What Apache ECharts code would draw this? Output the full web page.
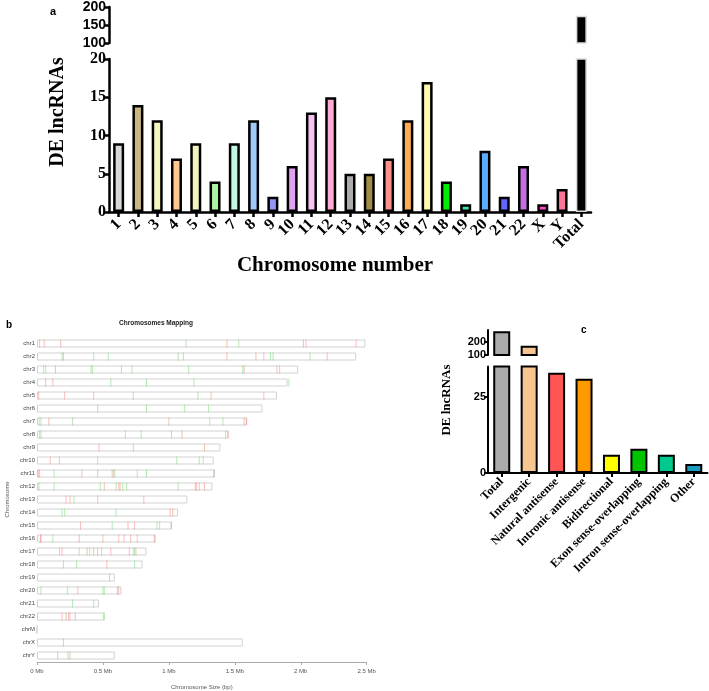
<!DOCTYPE html>
<html>
<head>
<meta charset="utf-8">
<script src="https://cdn.jsdelivr.net/npm/echarts@6/dist/echarts.min.js"></script>
<style>
  html, body { margin: 0; padding: 0; background: #fff; }
  #main { width: 709px; height: 691px; }
</style>
</head>
<body>
<div id="main"></div>
<script>
// panel a - DE lncRNAs per chromosome
var chromLabels = ['1', '2', '3', '4', '5', '6', '7', '8', '9', '10', '11', '12', '13', '14', '15', '16',
  '17', '18', '19', '20', '21', '22', 'X', 'Y', 'Total'];
var chromCounts = [9, 14, 12, 7, 9, 4, 9, 12, 2, 6, 13, 15, 5, 5, 7, 12, 17, 4, 1, 8, 2, 6, 1, 3, 176];
var chromColors = ['#d9d9d9', '#c9b882', '#f5f6c2', '#ffc98f', '#f3f5bd', '#aaf5a0', '#c2f7e2', '#9fcaf7',
  '#9296f5', '#e2a1f3', '#f7c1f1', '#ffa9d3', '#ababab', '#a18c45', '#ff918c', '#ffad52', '#fffab0',
  '#00ee00', '#40e0a8', '#5aacff', '#6464ff', '#c46fdf', '#ff45c8', '#ff7398', '#000000'];

// panel b - chromosome mapping
var mapChroms = ['chr1', 'chr2', 'chr3', 'chr4', 'chr5', 'chr6', 'chr7', 'chr8', 'chr9', 'chr10', 'chr11',
  'chr12', 'chr13', 'chr14', 'chr15', 'chr16', 'chr17', 'chr18', 'chr19', 'chr20', 'chr21', 'chr22',
  'chrM', 'chrX', 'chrY'];
var mapSizes = [2.49, 2.42, 1.98, 1.90, 1.82, 1.71, 1.59, 1.45, 1.39, 1.34, 1.35, 1.33, 1.14, 1.07, 1.02,
  0.90, 0.83, 0.80, 0.59, 0.64, 0.47, 0.51, 0.0002, 1.56, 0.59];
var sizeTicks = ['0 Mb', '0.5 Mb', '1 Mb', '1.5 Mb', '2 Mb', '2.5 Mb'];
var redHits = [
  [0.02, 0.055, 0.18, 1.44, 2.02, 2.04, 2.42],
  [0.20, 1.44, 1.66, 1.72, 2.20],
  [0.14, 1.57, 1.82, 1.84],
  [0.066, 0.12],
  [0.013, 0.21, 0.43, 1.32, 1.72],
  [0.46],
  [0.09, 1.00, 1.57, 1.59],
  [1.02, 1.10, 1.45],
  [0.47, 0.73, 1.27],
  [0.10],
  [0.01, 0.02, 0.34, 0.46, 0.57, 1.34],
  [0.51, 0.62, 0.63, 1.20, 1.21, 1.23, 1.27],
  [0.22, 0.25, 0.46, 0.81],
  [1.01, 1.03],
  [0.33, 0.69, 0.74],
  [0.025, 0.03, 0.32, 0.50, 0.62, 0.66, 0.71, 0.76, 0.89],
  [0.19, 0.38, 0.43, 0.46, 0.49, 0.56, 0.70, 0.75],
  [0.53],
  [],
  [0.31, 0.61, 0.62],
  [],
  [0.19, 0.22, 0.24, 0.25, 0.29],
  [],
  [0.20],
  [0.25]
];
var greenHits = [
  [1.13, 1.53],
  [0.19, 0.43, 0.54, 1.07, 1.11, 1.77, 1.79, 2.07],
  [0.05, 0.066, 0.41, 0.42, 0.64, 0.72, 1.15, 1.56],
  [0.56, 0.83, 1.19, 1.91],
  [0.73, 1.22],
  [0.83, 1.12, 1.30],
  [0.017, 0.03, 0.27, 1.31, 1.41],
  [0.02, 0.03, 0.67, 0.79, 1.43],
  [],
  [0.17, 0.46, 1.06, 1.23, 1.26],
  [0.13, 0.58, 0.59, 0.76, 0.83],
  [0.015, 0.13, 0.48, 0.60, 0.65, 0.68, 1.07],
  [0.28],
  [0.19, 0.21, 0.60],
  [0.57, 0.91, 0.93, 1.02],
  [0.12],
  [0.17, 0.32, 0.40, 0.73, 0.74],
  [0.20, 0.30, 0.74],
  [0.55],
  [0.03, 0.23, 0.50, 0.51],
  [0.27, 0.43],
  [0.51],
  [],
  [],
  [0.157, 0.235]
];

// panel c - lncRNA classes
var classLabels = ['Total', 'Intergenic', 'Natural antisense', 'Intronic antisense', 'Bidirectional',
  'Exon sense-overlapping', 'Intron sense-overlapping', 'Other'];
var classCounts = [280, 170, 33, 31, 6, 8, 6, 3];
var classColors = ['#aaaaaa', '#f7c58f', '#ff5555', '#ff9900', '#ffff00', '#00c400', '#00c98f', '#1a9cbf'];

var serif = '"Liberation Serif", "DejaVu Serif", serif';
var sans = '"Liberation Sans", Arial, sans-serif';

function barItems(values, colors, upper, lim) {
  return values.map(function (v, i) {
    var isTotal = colors[i] === '#000000';
    return {
      value: upper && v < lim ? '-' : v,
      itemStyle: {
        color: colors[i],
        borderColor: isTotal ? '#dcdcdc' : '#000',
        borderWidth: isTotal ? 1.5 : 2.5
      }
    };
  });
}

function hitPoints(list) {
  var pts = [];
  list.forEach(function (arr, ci) {
    arr.forEach(function (p) { pts.push([p, ci]); });
  });
  return pts;
}

var blackLine = { show: true, lineStyle: { color: '#000', width: 2.5 } };
var blackTick = { show: true, length: 5, lineStyle: { color: '#000', width: 2.5 } };

var myChart = echarts.init(document.getElementById('main'));

var option = {
  animation: false,
  grid: [
    { left: 109, top: 6, width: 482, height: 37 },
    { left: 109, top: 59, width: 482, height: 153 },
    { left: 37, top: 337, width: 329.7, height: 328.6 },
    { left: 488, top: 330, width: 219.5, height: 25 },
    { left: 488, top: 366.6, width: 219.5, height: 106.4 }
  ],
  xAxis: [
    { gridIndex: 0, type: 'category', data: chromLabels, show: false },
    {
      gridIndex: 1, type: 'category', data: chromLabels,
      axisLine: blackLine,
      axisTick: { show: true, alignWithLabel: true, length: 5, lineStyle: { color: '#000', width: 2.5 } },
      axisLabel: { interval: 0, rotate: 45, margin: 10, color: '#000', fontFamily: serif, fontWeight: 'bold', fontSize: 16 }
    },
    {
      gridIndex: 2, type: 'value', min: 0, max: 2.5, interval: 0.5,
      axisLine: { show: true, lineStyle: { color: '#aaa', width: 1 } },
      axisTick: { show: true, length: 3, lineStyle: { color: '#aaa' } },
      splitLine: { show: false },
      axisLabel: {
        color: '#555', fontSize: 6, fontFamily: sans, margin: 6,
        formatter: function (v) { return sizeTicks[Math.round(v / 0.5)]; }
      },
      name: 'Chromosome Size (bp)', nameLocation: 'middle', nameGap: 22,
      nameTextStyle: { color: '#555', fontSize: 6, fontFamily: sans }
    },
    { gridIndex: 3, type: 'category', data: classLabels, show: false },
    {
      gridIndex: 4, type: 'category', data: classLabels,
      axisLine: { show: true, lineStyle: { color: '#000', width: 2 } },
      axisTick: { show: true, alignWithLabel: true, length: 4, lineStyle: { color: '#000', width: 2 } },
      axisLabel: { interval: 0, rotate: 45, margin: 7, color: '#000', fontFamily: serif, fontWeight: 'bold', fontSize: 12 }
    }
  ],
  yAxis: [
    {
      gridIndex: 0, type: 'value', min: 100, max: 200, interval: 50,
      axisLine: blackLine, axisTick: blackTick, splitLine: { show: false },
      axisLabel: { color: '#000', fontFamily: sans, fontWeight: 'bold', fontSize: 14, margin: 3 }
    },
    {
      gridIndex: 1, type: 'value', min: 0, max: 20, interval: 5,
      axisLine: blackLine, axisTick: blackTick, splitLine: { show: false },
      axisLabel: { color: '#000', fontFamily: serif, fontWeight: 'bold', fontSize: 16, margin: 3 }
    },
    {
      gridIndex: 2, type: 'category', data: mapChroms, inverse: true,
      axisLine: { show: false }, axisTick: { show: false },
      axisLabel: { color: '#444', fontSize: 6, fontFamily: sans, margin: 2 },
      name: 'Chromosome', nameLocation: 'middle', nameGap: 27, nameRotate: 90,
      nameTextStyle: { color: '#555', fontSize: 6, fontFamily: sans }
    },
    {
      gridIndex: 3, type: 'value', min: 100, max: 290,
      axisLine: { show: true, lineStyle: { color: '#000', width: 2 } },
      axisTick: { show: true, length: 4, customValues: [100, 200], lineStyle: { color: '#000', width: 2 } },
      splitLine: { show: false },
      axisLabel: { customValues: [100, 200], color: '#000', fontFamily: sans, fontWeight: 'bold', fontSize: 11, margin: 2 }
    },
    {
      gridIndex: 4, type: 'value', min: 0, max: 35,
      axisLine: { show: true, lineStyle: { color: '#000', width: 2 } },
      axisTick: { show: true, length: 4, customValues: [0, 25], lineStyle: { color: '#000', width: 2 } },
      splitLine: { show: false },
      axisLabel: { customValues: [0, 25], color: '#000', fontFamily: sans, fontWeight: 'bold', fontSize: 11, margin: 2 }
    }
  ],
  series: [
    { type: 'bar', xAxisIndex: 0, yAxisIndex: 0, barWidth: 11, data: barItems(chromCounts, chromColors, true, 100) },
    { type: 'bar', xAxisIndex: 1, yAxisIndex: 1, barWidth: 11, data: barItems(chromCounts, chromColors, false) },
    {
      type: 'bar', xAxisIndex: 2, yAxisIndex: 2, barWidth: 8, silent: true, data: mapSizes,
      itemStyle: { color: '#fff', borderColor: '#d2d2d2', borderWidth: 1 }
    },
    {
      type: 'scatter', xAxisIndex: 2, yAxisIndex: 2, symbol: 'rect', symbolSize: [1, 8],
      data: hitPoints(redHits), itemStyle: { color: 'rgba(240,80,60,0.45)' }
    },
    {
      type: 'scatter', xAxisIndex: 2, yAxisIndex: 2, symbol: 'rect', symbolSize: [1, 8],
      data: hitPoints(greenHits), itemStyle: { color: 'rgba(50,200,50,0.45)' }
    },
    {
      type: 'bar', xAxisIndex: 3, yAxisIndex: 3, barWidth: 17,
      data: classCounts.map(function (v, i) {
        return { value: v < 100 ? '-' : v, itemStyle: { color: classColors[i], borderColor: '#000', borderWidth: 2 } };
      })
    },
    {
      type: 'bar', xAxisIndex: 4, yAxisIndex: 4, barWidth: 17,
      data: classCounts.map(function (v, i) {
        return { value: v, itemStyle: { color: classColors[i], borderColor: '#000', borderWidth: 2 } };
      })
    }
  ],
  graphic: [
    { type: 'text', x: 50, y: 6, style: { text: 'a', font: 'bold 11px ' + sans, fill: '#000' } },
    {
      type: 'text', x: 58, y: 112, rotation: Math.PI / 2,
      style: { text: 'DE lncRNAs', font: 'bold 20px ' + serif, fill: '#000', textAlign: 'center', textVerticalAlign: 'middle', align: 'center', verticalAlign: 'middle' }
    },
    {
      type: 'text', x: 335, y: 266,
      style: { text: 'Chromosome number', font: 'bold 21px ' + serif, fill: '#000', textAlign: 'center', textVerticalAlign: 'middle', align: 'center', verticalAlign: 'middle' }
    },
    { type: 'text', x: 6, y: 320, style: { text: 'b', font: 'bold 10px ' + sans, fill: '#000' } },
    {
      type: 'text', x: 156, y: 323,
      style: { text: 'Chromosomes Mapping', font: 'bold 6.5px ' + sans, fill: '#222', textAlign: 'center', textVerticalAlign: 'middle', align: 'center', verticalAlign: 'middle' }
    },
    { type: 'text', x: 581, y: 325, style: { text: 'c', font: 'bold 10px ' + sans, fill: '#000' } },
    {
      type: 'text', x: 447, y: 400, rotation: Math.PI / 2,
      style: { text: 'DE lncRNAs', font: 'bold 13px ' + serif, fill: '#000', textAlign: 'center', textVerticalAlign: 'middle', align: 'center', verticalAlign: 'middle' }
    }
  ]
};

myChart.setOption(option);

window.addEventListener('resize', function () {
  myChart.resize();
});
</script>
</body>
</html>
